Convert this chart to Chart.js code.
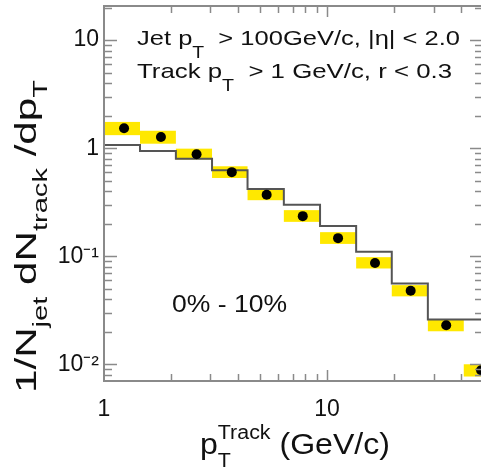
<!DOCTYPE html>
<html lang="en">
<head>
<meta charset="UTF-8">
<title>Track pT spectrum in jets</title>
<script src="https://cdn.jsdelivr.net/npm/chart.js"></script>
<style>
  html, body { margin: 0; padding: 0; background: #fff; overflow: hidden; }
  /* a little wider than the window: the right side of the frame falls just off the picture */
  #wrap { width: 488px; height: 468px; }
</style>
</head>
<body>
<div id="wrap"><canvas id="spectrum"></canvas></div>
<script>
// bin edges in track pT (GeV/c)
var binEdges = [1, 1.45, 2.1, 3.05, 4.4, 6.4, 9.3, 13.5, 19.5, 28.3, 41, 59];
// measured points and their systematic band
var pointX = [1.23, 1.80, 2.60, 3.74, 5.36, 7.78, 11.2, 16.4, 23.7, 34.2, 49];
var dataY = [1.53, 1.27, 0.88, 0.60, 0.37, 0.235, 0.147, 0.0867, 0.048, 0.023, 0.0088];
var sysHigh = [1.75, 1.45, 0.99, 0.68, 0.42, 0.267, 0.167, 0.098, 0.054, 0.0258, 0.0100];
var sysLow = [1.32, 1.10, 0.786, 0.53, 0.33, 0.208, 0.130, 0.077, 0.0425, 0.0202, 0.0077];
// reference histogram (step line)
var refY = [1.07, 0.94, 0.80, 0.625, 0.42, 0.30, 0.19, 0.11, 0.056, 0.026, 0.026];
// tick labels
var xLabelValues = [1, 10];
var xLabelText = ['1', '10'];
var yLabelValues = [10, 1, 0.1, 0.01];
var yLabelText = ['10', '1', '10⁻¹', '10⁻²'];

var FONT = '"Liberation Sans", Arial, Helvetica, sans-serif';

function sameValue(a, b) { return Math.abs(a - b) < 1e-9 * Math.max(Math.abs(a), Math.abs(b)); }
function isDecade(v) { var l = Math.log10(v); return Math.abs(l - Math.round(l)) < 1e-6; }
function isStep(v) {
    var m = v / Math.pow(10, Math.floor(Math.log10(v) + 1e-9));
    return Math.abs(m - Math.round(m)) < 1e-6;
}
function labelFor(values, texts, v) {
    for (var i = 0; i < values.length; i++) if (sameValue(values[i], v)) return texts[i];
    return '';
}

// text with sub/superscripts; parts: {t, size, dy, stack}
function richWidth(ctx, parts) {
    var cx = 0, start = 0;
    parts.forEach(function(p) {
        ctx.font = p.size + 'px ' + FONT;
        var w = ctx.measureText(p.t).width;
        if (p.stack) { cx = Math.max(cx, start + w); }
        else { start = cx; cx = start + w; }
    });
    return cx;
}
function richText(ctx, x, y, parts, length, angle) {
    var natural = richWidth(ctx, parts);
    ctx.save();
    ctx.translate(x, y);
    if (angle) ctx.rotate(angle);
    ctx.scale(length / natural, 1);
    ctx.fillStyle = '#111';
    ctx.textBaseline = 'alphabetic';
    ctx.textAlign = 'left';
    var cx = 0, start = 0;
    parts.forEach(function(p) {
        ctx.font = p.size + 'px ' + FONT;
        var w = ctx.measureText(p.t).width;
        if (p.stack) { ctx.fillText(p.t, start, p.dy || 0); cx = Math.max(cx, start + w); }
        else { start = cx; ctx.fillText(p.t, start, p.dy || 0); cx = start + w; }
    });
    ctx.restore();
}

var histPoints = refY.map(function(v, i) { return {x: binEdges[i], y: v}; });
histPoints.push({x: binEdges[refY.length], y: refY[refY.length - 1]});
var dots = dataY.map(function(v, i) { return {x: pointX[i], y: v}; });

var hepFrame = {
    id: 'hepFrame',
    beforeDatasetsDraw: function(chart) {
        var ctx = chart.ctx, a = chart.chartArea, xs = chart.scales.x, ys = chart.scales.y;
        ctx.save();
        ctx.beginPath();
        ctx.rect(a.left, a.top, a.right - a.left, a.bottom - a.top);
        ctx.clip();
        ctx.fillStyle = 'rgb(255,232,0)';
        for (var i = 0; i < dataY.length; i++) {
            var x0 = xs.getPixelForValue(binEdges[i]), x1 = xs.getPixelForValue(binEdges[i + 1]);
            var y0 = ys.getPixelForValue(sysHigh[i]), y1 = ys.getPixelForValue(sysLow[i]);
            ctx.fillRect(x0, y0, x1 - x0, y1 - y0);
        }
        ctx.restore();
    },
    afterDraw: function(chart) {
        var ctx = chart.ctx, a = chart.chartArea, xs = chart.scales.x, ys = chart.scales.y;
        ctx.save();
        ctx.strokeStyle = '#8a8a8a';
        ctx.lineWidth = 1.5;
        ctx.beginPath();
        xs.ticks.forEach(function(t) {
            var v = t.value;
            if (!isStep(v) || v <= xs.min || v >= xs.max) return;
            var px = Math.round(xs.getPixelForValue(v)) + 0.5, len = isDecade(v) ? 11 : 7;
            ctx.moveTo(px, a.bottom); ctx.lineTo(px, a.bottom - len);
            ctx.moveTo(px, a.top); ctx.lineTo(px, a.top + len);
        });
        ys.ticks.forEach(function(t) {
            var v = t.value;
            if (!isStep(v) || v <= ys.min || v >= ys.max) return;
            var py = Math.round(ys.getPixelForValue(v)) + 0.5, len = isDecade(v) ? 13 : 8;
            ctx.moveTo(a.left, py); ctx.lineTo(a.left + len, py);
            ctx.moveTo(a.right, py); ctx.lineTo(a.right - len, py);
        });
        ctx.stroke();
        ctx.lineWidth = 2;
        ctx.strokeRect(a.left, a.top, a.right - a.left, a.bottom - a.top);
        ctx.restore();

        // labels on the plot
        richText(ctx, 137, 45, [
            {t: 'Jet p', size: 21}, {t: 'T', size: 16, dy: 13},
            {t: '  > 100GeV/c, |η| < 2.0', size: 21}], 323);
        richText(ctx, 137, 78, [
            {t: 'Track p', size: 21}, {t: 'T', size: 16, dy: 13},
            {t: '  > 1 GeV/c, r < 0.3', size: 21}], 315);
        richText(ctx, 172, 312, [{t: '0% - 10%', size: 23}], 115);

        // axis titles
        richText(ctx, 200, 454, [
            {t: 'p', size: 30}, {t: 'Track', size: 20, dy: -15},
            {t: 'T', size: 20, dy: 13, stack: true}, {t: ' (GeV/c)', size: 30}], 190);
        richText(ctx, 36, 393, [
            {t: '1/N', size: 29}, {t: 'jet', size: 20, dy: 11},
            {t: ' dN', size: 29}, {t: 'track', size: 20, dy: 11},
            {t: ' /dp', size: 29}, {t: 'T', size: 20, dy: 11}], 313, -Math.PI / 2);
    }
};

var ctx = document.getElementById('spectrum').getContext('2d');
new Chart(ctx, {
    type: 'scatter',
    data: {
        datasets: [{
            label: 'data',
            data: dots,
            pointRadius: 5,
            pointBackgroundColor: '#000',
            pointBorderColor: '#000',
            pointBorderWidth: 0
        }, {
            type: 'line',
            label: 'reference',
            data: histPoints,
            stepped: 'before',
            borderColor: '#555',
            borderWidth: 2,
            pointRadius: 0,
            fill: false
        }]
    },
    options: {
        responsive: true,
        maintainAspectRatio: false,
        animation: false,
        layout: { padding: { top: 6, right: 0, left: 0, bottom: 0 } },
        plugins: { legend: { display: false }, tooltip: { enabled: false } },
        scales: {
            x: {
                type: 'logarithmic',
                min: 1,
                max: 50,
                grid: { display: false, drawTicks: false },
                border: { display: false },
                ticks: {
                    autoSkip: false,
                    maxRotation: 0,
                    padding: 15,
                    color: '#111',
                    font: { family: FONT, size: 23 },
                    callback: function(v) { return labelFor(xLabelValues, xLabelText, v); }
                },
                afterFit: function(s) { s.height = 87; s.paddingLeft = 0; s.paddingRight = 0; }
            },
            y: {
                type: 'logarithmic',
                min: 0.007,
                max: 20.7,
                grid: { display: false, drawTicks: false },
                border: { display: false },
                ticks: {
                    autoSkip: false,
                    padding: 5,
                    color: '#111',
                    font: { family: FONT, size: 23 },
                    callback: function(v) { return labelFor(yLabelValues, yLabelText, v); }
                },
                afterFit: function(s) { s.width = 104; s.paddingTop = 0; s.paddingBottom = 0; }
            }
        }
    },
    plugins: [hepFrame]
});
</script>
</body>
</html>
